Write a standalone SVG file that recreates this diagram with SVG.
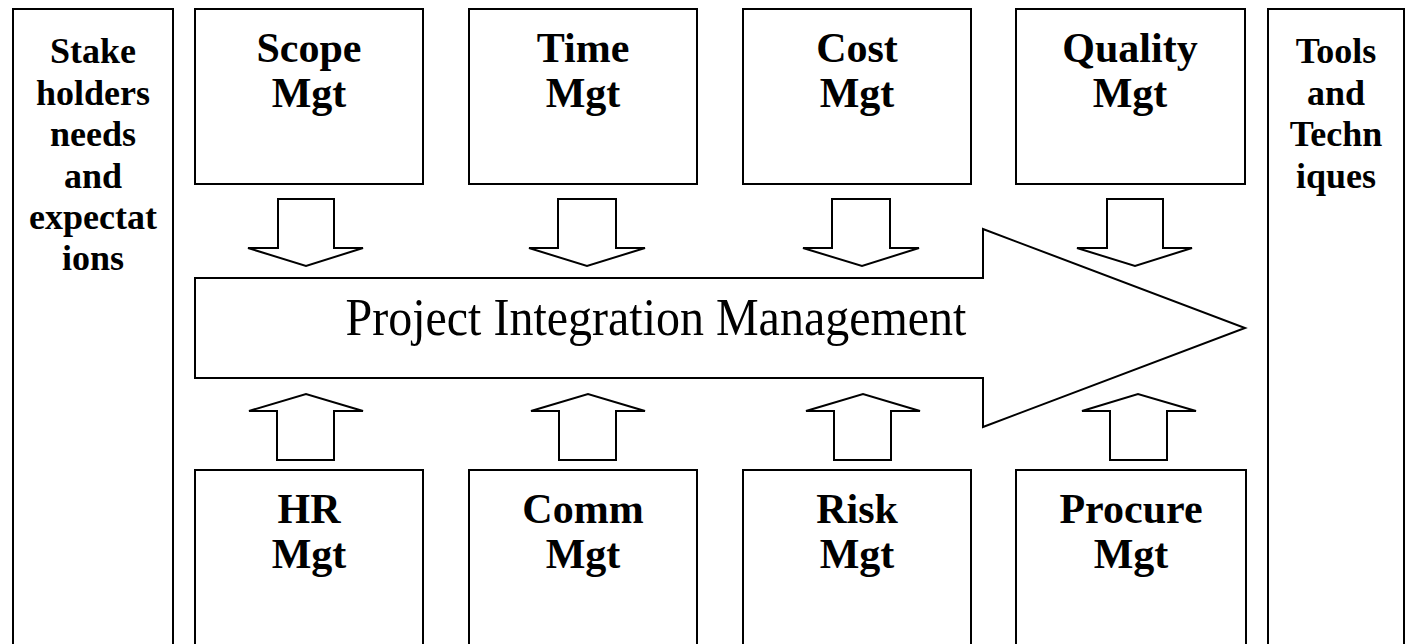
<svg xmlns="http://www.w3.org/2000/svg" width="1411" height="644" viewBox="0 0 1411 644">
<style>
.box{fill:#fff;stroke:#000;stroke-width:2}
.arr{fill:#fff;stroke:#000;stroke-width:2;stroke-linejoin:miter}
.lbl{font-family:"Liberation Serif","Times New Roman",serif;font-weight:bold;font-size:42px;text-anchor:middle;fill:#000}
.side{font-family:"Liberation Serif","Times New Roman",serif;font-weight:bold;font-size:36px;text-anchor:middle;fill:#000}
.main{font-family:"Liberation Serif","Times New Roman",serif;font-size:48px;text-anchor:middle;fill:#000}
</style>
<rect width="1411" height="644" fill="#fff"/>
<g id="stakeholders">
<rect class="box" x="13" y="9" width="160" height="660"/>
<text class="side" x="93"><tspan x="93" y="63">Stake</tspan><tspan x="93" y="104.5">holders</tspan><tspan x="93" y="146">needs</tspan><tspan x="93" y="187.5">and</tspan><tspan x="93" y="229">expectat</tspan><tspan x="93" y="270">ions</tspan></text>
</g>
<g id="tools">
<rect class="box" x="1268" y="9" width="136" height="660"/>
<text class="side" x="1336"><tspan x="1336" y="63">Tools</tspan><tspan x="1336" y="104.5">and</tspan><tspan x="1336" y="146">Techn</tspan><tspan x="1336" y="187.5">iques</tspan></text>
</g>
<g id="scope">
<rect class="box" x="195" y="9" width="228" height="175"/>
<text class="lbl"><tspan x="309" y="62">Scope</tspan><tspan x="309" y="107">Mgt</tspan></text>
</g>
<g id="time">
<rect class="box" x="469" y="9" width="228" height="175"/>
<text class="lbl"><tspan x="583" y="62">Time</tspan><tspan x="583" y="107">Mgt</tspan></text>
</g>
<g id="cost">
<rect class="box" x="743" y="9" width="228" height="175"/>
<text class="lbl"><tspan x="857" y="62">Cost</tspan><tspan x="857" y="107">Mgt</tspan></text>
</g>
<g id="quality">
<rect class="box" x="1016" y="9" width="229" height="175"/>
<text class="lbl"><tspan x="1130" y="62">Quality</tspan><tspan x="1130" y="107">Mgt</tspan></text>
</g>
<g id="hr">
<rect class="box" x="195" y="470" width="228" height="200"/>
<text class="lbl"><tspan x="309" y="523">HR</tspan><tspan x="309" y="568">Mgt</tspan></text>
</g>
<g id="comm">
<rect class="box" x="469" y="470" width="228" height="200"/>
<text class="lbl"><tspan x="583" y="523">Comm</tspan><tspan x="583" y="568">Mgt</tspan></text>
</g>
<g id="risk">
<rect class="box" x="743" y="470" width="228" height="200"/>
<text class="lbl"><tspan x="857" y="523">Risk</tspan><tspan x="857" y="568">Mgt</tspan></text>
</g>
<g id="procure">
<rect class="box" x="1016" y="470" width="230" height="200"/>
<text class="lbl"><tspan x="1131" y="523">Procure</tspan><tspan x="1131" y="568">Mgt</tspan></text>
</g>
<g id="integration">
<polygon class="arr" points="195,278 983,278 983,229 1245,328 983,427 983,378 195,378"/>
<text class="main" x="656" y="335" transform="translate(0,335) scale(1,1.1) translate(0,-335)">Project Integration Management</text>
</g>
<g id="connectors">
<polygon class="arr" points="278,199 334,199 334,248 363,248 306,266 248,248 278,248"/>
<polygon class="arr" points="558,199 616,199 616,248 645,248 587,266 529,248 558,248"/>
<polygon class="arr" points="832,199 890,199 890,248 919,248 862,266 803,248 832,248"/>
<polygon class="arr" points="1107,199 1163,199 1163,248 1192,248 1135,266 1077,248 1107,248"/>
<polygon class="arr" points="277,460 334,460 334,411 363,411 306,394 249,411 277,411"/>
<polygon class="arr" points="559,460 616,460 616,411 645,411 588,394 531,411 559,411"/>
<polygon class="arr" points="834,460 891,460 891,411 920,411 863,394 806,411 834,411"/>
<polygon class="arr" points="1110,460 1167,460 1167,411 1196,411 1138,394 1082,411 1110,411"/>
</g>
</svg>
